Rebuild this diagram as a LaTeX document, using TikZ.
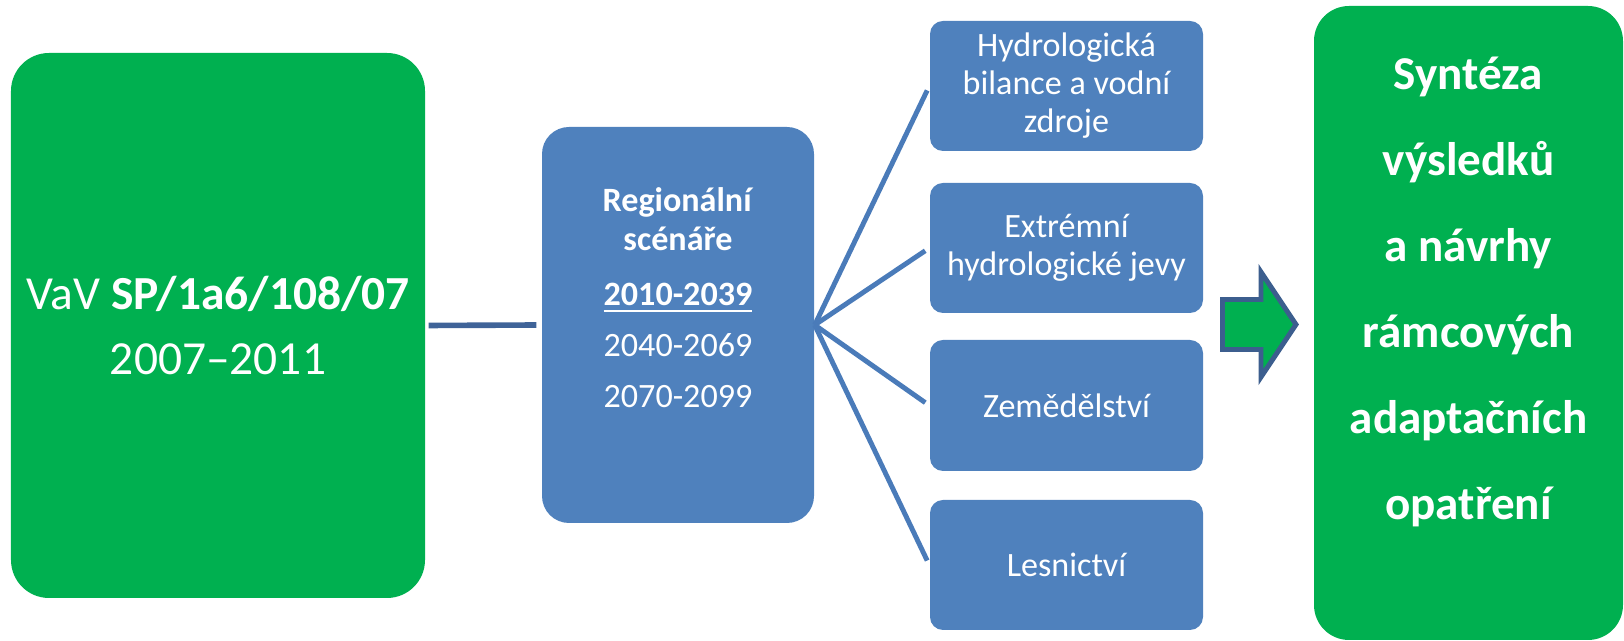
\documentclass[tikz,border=0pt]{standalone}
\usepackage{fontspec}
\setmainfont{Carlito}
\usetikzlibrary{positioning}
\definecolor{vavgreen}{HTML}{00B050}
\definecolor{boxblue}{HTML}{4F81BD}
\definecolor{fanblue}{HTML}{4A7BB9}
\definecolor{linkblue}{HTML}{3F6398}
\definecolor{arrowedge}{HTML}{3C5E8E}
\begin{document}
\begin{tikzpicture}[
	greenbox/.style={fill=vavgreen, text=white, rounded corners=0.38cm, align=center, inner sep=0pt},
	bluebox/.style={fill=boxblue, text=white, rounded corners=0.13cm, align=center, inner sep=0pt,
		minimum width=2.73cm, minimum height=1.30cm, font=\fontsize{9.7}{10.8}\selectfont},
	fan/.style={draw=fanblue, line width=1.4pt, shorten >=1.4pt}
	]
	\useasboundingbox (0,0) rectangle (16.24,6.41);
	% Project box
	\node[greenbox, minimum width=4.14cm, minimum height=5.45cm,
		font=\fontsize{13.5}{18.5}\selectfont] (vav) at (2.18,3.155)
		{VaV \textbf{SP/1a6/108/07}\\2007–2011};
	% Scenarios
	\node[greenbox, fill=boxblue, rounded corners=0.27cm,
		minimum width=2.72cm, minimum height=3.96cm] (scen) at (6.78,3.16) {};
	\node[text=white, align=center, inner sep=0pt,
		font=\fontsize{9.7}{11.1}\selectfont] (scentext) at (6.78,3.43)
		{\textbf{Regionální}\\\textbf{scénáře}\\[4.5pt]\textbf{\underline{2010-2039}}\\[3.4pt]
		2040-2069\\[3.4pt]2070-2099};
	% Sectors
	\node[bluebox] (hydro) at (10.665,5.55) {Hydrologická\\bilance a vodní\\zdroje};
	\node[bluebox] (extrem) at (10.665,3.93) {Extrémní\\hydrologické jevy};
	\node[bluebox, minimum height=1.31cm] (zemed) at (10.665,2.355) {Zemědělství};
	\node[bluebox] (lesn) at (10.665,0.76) {Lesnictví};
	% Synthesis
	\node[greenbox, rounded corners=0.35cm, minimum width=3.09cm, minimum height=6.34cm] (synt) at (14.685,3.18) {};
	\node[text=white, align=center, inner sep=0pt,
		font=\bfseries\fontsize{13.4}{24.5}\selectfont] (synttext) at (14.685,3.49)
		{Syntéza\\výsledků\\a návrhy\\rámcových\\adaptačních\\opatření};
	% Connectors
	\draw[linkblue, line width=1.6pt, shorten <=0.8pt, shorten >=1.4pt] (vav.east) -- (scen.west);
	\foreach \b in {hydro,extrem,zemed,lesn}
		\draw[fan] (scen.east) -- (\b.west);
	% Block arrow
	\draw[fill=vavgreen, draw=arrowedge, line width=1.4pt, line join=miter]
		(12.225,3.415) -- (12.61,3.415) -- (12.61,3.69) -- (12.96,3.165)
		-- (12.61,2.64) -- (12.61,2.915) -- (12.225,2.915) -- cycle;
\end{tikzpicture}
\end{document}
